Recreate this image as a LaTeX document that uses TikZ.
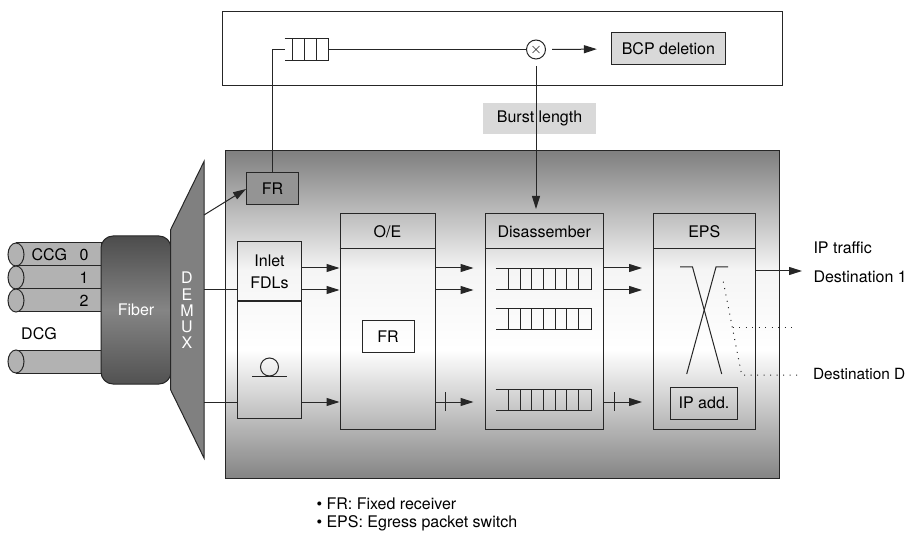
\documentclass[tikz,border=0pt]{standalone}
\usepackage{fontspec}
\setmainfont{TeX Gyre Heros}
\usetikzlibrary{shapes.geometric,positioning,arrows.meta,calc}
\pgfdeclareverticalshading{boardshade}{100bp}{color(0bp)=(black!48); color(25bp)=(black!48); color(44.6bp)=(white); color(56.8bp)=(black!4); color(75bp)=(black!50); color(100bp)=(black!50)}
\pgfdeclareverticalshading{fibershade}{100bp}{color(0bp)=(black!68); color(25bp)=(black!68); color(50bp)=(black!48); color(75bp)=(black!70); color(100bp)=(black!70)}

\begin{document}
\begin{tikzpicture}[
    x=1pt,
    y=-1pt,
    line width=1pt,
    draw=black!85,
    every node/.style={inner sep=0pt, font=\fontsize{16}{19}\selectfont},
    block/.style={rectangle, draw=black!85, minimum width=#1, text centered},
    block/.default=95pt,
    label/.style={anchor=west},
    grey/.style={rectangle, draw=black!85, fill=black!15, minimum height=32pt},
    cable/.style={rectangle, draw=black!85, fill=black!30, minimum width=85pt, minimum height=23pt},
    cable_end/.style={ellipse, draw=black!85, fill=black!30, minimum width=16pt, minimum height=23pt},
    arrow/.style={-{Stealth[length=13pt,width=8pt,inset=0pt]}},
    exit/.style={arrow, shorten >=11pt},
    tick/.style={line width=0.9pt},
    sparse/.style={line width=1pt, dash pattern=on 1pt off 5.5pt}
]
\useasboundingbox (0,0) rectangle (907,534);

% Control unit
\node[rectangle, draw=black!85, minimum width=560pt, minimum height=74pt] (control) at (502,49) {};
\node[circle, draw=black!85, minimum size=19pt] (mixer) at (536,49.5) {};
\draw[line width=0.5pt] (532.5,46) -- (539.5,53) (532.5,53) -- (539.5,46);
\node[grey, minimum width=114pt] (bcp) at (668.4,49) {BCP deletion};
\node[rectangle, minimum width=43pt, minimum height=21pt] (queue_ctrl) at (306.5,49.5) {};
\draw (queue_ctrl.north west) -- (queue_ctrl.north east) -- (queue_ctrl.south east) -- (queue_ctrl.south west);
\foreach \x in {292,304,316} {
    \draw (\x,39) -- (\x,60);
}
\node[rectangle, fill=black!15, minimum width=113pt, minimum height=31pt] (burst) at (539.5,118.5) {Burst length};
\coordinate (mixer_out) at (552,49.5);
\coordinate (mixer_down) at (536,66);
\coordinate (dis_in) at (536,209);

% Board
\node[rectangle, draw=black!85, shading=boardshade, minimum width=554pt, minimum height=327pt] (board) at (502,314.5) {};
\node[rectangle, draw=black!85, fill=black!42, minimum width=52pt, minimum height=32pt] (fr_top) at (272.5,189) {FR};

% Inlet FDLs
\node[block=63.5pt, minimum height=176pt] (inlet) at (269.5,330) {};
\draw[line width=1.5pt] (inlet.west |- 0,301) -- (inlet.east |- 0,301);
\node[align=center, font=\fontsize{16}{22.5}\selectfont] (inlet_text) at (269.5,272) {Inlet\\FDLs};
\node[circle, draw=black!85, minimum size=18pt] (spool) at (269.5,367) {};
\draw (252,376) -- (287,376);

% O/E
\node[block=95pt, minimum height=215pt] (oe) at (387.5,321.5) {};
\draw (oe.west |- 0,249) -- (oe.east |- 0,249);
\node (oe_text) at (387.5,231.5) {O/E};
\node[rectangle, draw=black!85, minimum width=52pt, minimum height=31pt] (fr_oe) at (388,336.5) {FR};

% Disassember
\node[block=118.5pt, minimum height=215pt] (dis) at (544.25,321.5) {};
\draw (dis.west |- 0,249) -- (dis.east |- 0,249);
\node (dis_text) at (544.25,231.5) {Disassember};
\foreach \y/\name in {279/queue_a,319/queue_b,400/queue_c} {
    \node[rectangle, minimum width=95pt, minimum height=20.5pt] (\name) at (543.5,\y) {};
    \draw (\name.north west) -- (\name.north east) -- (\name.south east) -- (\name.south west);
    \foreach \x in {508,520,531.7,543.3,555,566.7,578.3} {
        \draw (\x,\y-10.25) -- (\x,\y+10.25);
    }
}

% EPS
\node[block=101.5pt, minimum height=215pt] (eps) at (704.25,321.5) {};
\draw (eps.west |- 0,249) -- (eps.east |- 0,249);
\node (eps_text) at (704.25,231.5) {EPS};
\draw (680,267) -- (692.5,267) -- (721.7,374);
\draw (728,267) -- (716,267) -- (686.7,374);
\node[rectangle, draw=black!85, minimum width=67pt, minimum height=32pt] (ip_add) at (704,403) {IP add.};
\coordinate (dest_two) at (795,327.7);
\coordinate (dest_d) at (798,375);
\draw[sparse] (723.3,281.7) -- (741.7,375) -- (dest_d);
\draw[sparse] (732.7,327.7) -- (dest_two);

% Cables
\foreach \y/\name in {254.5/ccg_a,277.5/ccg_b,300.5/ccg_c,361.5/dcg} {
    \node[cable] (\name) at (58.5,\y) {};
    \node[cable_end] (\name_end) at (16,\y) {};
}
\node[label] at (31,255) {CCG};
\node at (84,255) {0};
\node at (84,277.5) {1};
\node at (84,301) {2};
\node (dcg_text) at (39,334) {DCG};

% Fiber and demux
\draw[shading=fibershade, rounded corners=12pt] (171,236) -- (101,236) -- (101,384) -- (171,384) -- cycle;
\node[text=white] (fiber) at (136,310) {Fiber};
\draw[fill=black!50] (170.7,229.5) -- (204,161.5) -- (204,458) -- (170.7,390) -- cycle;
\coordinate (demux_fr) at (204,215);
\node[text=white, align=center, font=\fontsize{16}{16.25}\selectfont] (demux) at (187,310.5) {D\\E\\M\\U\\X};

% Rows
\coordinate (row_a) at (0,268);
\coordinate (row_b) at (0,290);
\coordinate (row_c) at (0,402);

% Arrows - Control
\draw (fr_top.north) |- (queue_ctrl.west);
\draw (queue_ctrl.east) -- (mixer.west);
\draw[exit, shorten >=14pt] (mixer_out) -- (bcp.west);
\draw[arrow] (mixer_down) -- (dis_in);

% Arrows - Demux
\draw[arrow] (demux_fr) -- (fr_top.west);
\draw (204,290) -- (inlet.west |- row_b);
\draw (204,402) -- (inlet.west |- row_c);

% Arrows - Rows
\draw[arrow] (inlet.east |- row_a) -- (oe.west |- row_a);
\draw[arrow] (inlet.east |- row_b) -- (oe.west |- row_b);
\draw[arrow] (inlet.east |- row_c) -- (oe.west |- row_c);
\draw[exit] (oe.east |- row_a) -- (dis.west |- row_a);
\draw[exit] (oe.east |- row_b) -- (dis.west |- row_b);
\draw[exit] (oe.east |- row_c) -- (dis.west |- row_c);
\draw[exit] (dis.east |- row_a) -- (eps.west |- row_a);
\draw[exit] (dis.east |- row_b) -- (eps.west |- row_b);
\draw[exit] (dis.east |- row_c) -- (eps.west |- row_c);
\draw[tick] (445.7,392) -- (445.7,411);
\draw[tick] (614,392) -- (614,411);

% Outputs
\coordinate (out_one) at (802,271);
\draw[arrow] (eps.east |- out_one) -- (out_one);
\node[label] (ip_traffic) at (813,248) {IP traffic};
\node[label] (dest_one_text) at (813,277) {Destination 1};
\node[label, font=\fontsize{15.4}{19}\selectfont] (dest_d_text) at (812.5,374.5) {Destination D};

% Legend
\node[label] (legend_a) at (316,504) {• FR: Fixed receiver};
\node[label] (legend_b) at (316,523) {• EPS: Egress packet switch};

\end{tikzpicture}
\end{document}
